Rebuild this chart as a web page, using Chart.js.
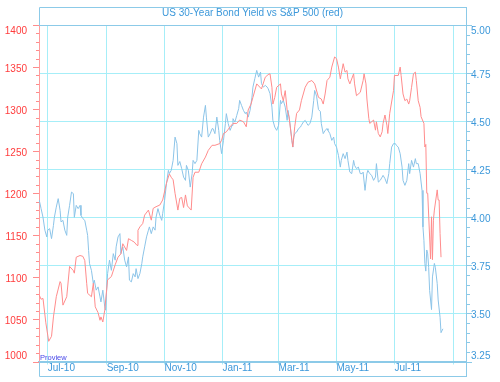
<!DOCTYPE html>
<html><head><meta charset="utf-8">
<script src="https://cdn.jsdelivr.net/npm/chart.js@4"></script>
<style>html,body{margin:0;padding:0;background:#fff}canvas{display:block}</style>
</head><body>
<canvas id="c" width="500" height="382"></canvas>
<script>
const titleText = 'US 30-Year Bond Yield vs S&P 500 (red)';
const sourceText = 'Proview';
// all "day" values are calendar days counted from 2010-07-01
const monthTickDays = [0, 62, 123, 184, 243, 304, 365, 427];
const monthTickLabels = ['Jul-10', 'Sep-10', 'Nov-10', 'Jan-11', 'Mar-11', 'May-11', 'Jul-11', ''];
const spAxisRange = [1000, 1400];
const yieldAxisRange = [3.25, 5.00];

const spDay = [-9,-7,-5,-2,1,4,6,9,13,14,16,20,23,27,28,30,34,37,39,41,42,46,48,50,53,55,56,58,60,62,63,67,71,74,77,79,83,85,88,91,94,95,97,100,102,106,109,111,114,118,121,125,128,130,132,134,137,139,141,143,145,147,151,153,155,159,162,166,169,173,176,181,183,185,188,192,195,199,202,206,209,211,214,216,220,225,229,232,234,236,237,239,241,245,246,248,250,252,254,257,258,260,262,265,267,271,274,278,281,285,288,290,292,294,297,299,302,304,306,308,311,313,315,316,318,322,323,325,329,332,333,335,336,338,339,343,345,346,348,350,352,353,355,357,358,360,364,365,369,371,372,374,376,378,380,381,383,385,387,388,390,392,393,396,397,398,399,400,403,404,405,406,407,410,411,412,413,414];
const spValue = [1079,1074,1075,1046,1024,1030,1053,1077,1095,1093,1067,1077,1113,1108,1105,1124,1126,1125,1120,1093,1081,1077,1093,1065,1058,1049,1053,1047,1061,1085,1097,1101,1115,1124,1128,1140,1132,1146,1144,1142,1138,1156,1160,1164,1174,1180,1168,1182,1184,1186,1192,1212,1223,1219,1216,1200,1180,1194,1195,1183,1198,1185,1180,1219,1225,1225,1235,1243,1251,1257,1257,1259,1263,1271,1273,1279,1283,1283,1287,1285,1279,1299,1306,1314,1330,1324,1338,1341,1342,1326,1306,1314,1326,1330,1318,1310,1322,1299,1291,1263,1255,1279,1295,1299,1310,1326,1332,1334,1330,1314,1312,1306,1318,1334,1338,1350,1362,1360,1350,1336,1354,1344,1346,1336,1330,1342,1330,1316,1320,1334,1342,1330,1312,1289,1283,1287,1275,1285,1271,1267,1273,1283,1293,1281,1271,1295,1322,1340,1340,1350,1340,1318,1310,1312,1306,1310,1326,1342,1344,1334,1310,1302,1291,1283,1255,1258,1200,1200,1122,1172,1121,1168,1180,1204,1192,1192,1152,1124];

const bondDay = [-9,-7,-5,-3,-1,0,2,4,6,7,9,11,13,14,16,18,20,21,23,25,27,28,30,32,34,35,37,39,41,42,43,44,46,48,49,51,53,55,56,58,60,61,62,63,65,67,69,71,72,74,76,77,79,81,83,85,86,88,90,92,93,95,97,99,100,102,104,106,107,109,111,113,114,116,118,120,121,123,125,127,128,130,132,134,136,137,139,141,143,145,146,148,150,152,153,155,157,159,160,162,164,166,167,169,171,173,174,176,178,180,181,183,185,187,188,190,192,194,195,197,199,201,202,204,206,208,209,211,213,215,216,218,220,222,224,225,227,229,231,232,234,236,237,239,241,243,245,246,248,250,252,253,255,257,258,259,260,262,264,266,267,269,271,273,274,276,278,280,281,283,285,287,288,290,292,294,295,297,299,301,302,304,306,308,309,311,313,315,316,318,320,322,323,325,327,329,331,332,334,336,337,339,341,343,345,346,348,350,352,353,355,357,359,360,362,364,366,367,369,371,373,374,376,378,380,381,383,385,387,388,390,392,394,395,396,397,398,399,400,401,402,404,405,407,408,410,411,413,414,416];
const bondYield = [4.09,4.045,4.00,3.933,3.898,3.933,3.941,3.889,3.958,4.00,4.053,4.097,4.036,3.976,3.984,3.933,3.906,4.00,4.062,4.131,4.123,4.00,4.062,4.045,4.062,4.01,3.993,3.984,3.933,3.906,3.828,3.759,3.724,3.655,3.673,3.621,3.638,3.586,3.56,3.621,3.534,3.517,3.621,3.707,3.777,3.724,3.811,3.777,3.846,3.898,3.915,3.811,3.846,3.777,3.742,3.794,3.673,3.664,3.707,3.69,3.733,3.681,3.707,3.759,3.794,3.846,3.898,3.933,3.95,3.915,3.95,3.933,4.00,4.045,4.01,3.984,4.019,4.088,4.175,4.244,4.227,4.244,4.296,4.417,4.383,4.27,4.29,4.253,4.209,4.192,4.27,4.244,4.157,4.227,4.296,4.279,4.296,4.452,4.435,4.417,4.521,4.582,4.521,4.417,4.435,4.461,4.461,4.435,4.521,4.452,4.40,4.331,4.40,4.487,4.539,4.487,4.452,4.478,4.513,4.495,4.53,4.565,4.608,4.582,4.556,4.539,4.547,4.521,4.556,4.625,4.677,4.721,4.764,4.729,4.755,4.695,4.677,4.686,4.677,4.669,4.643,4.573,4.504,4.469,4.452,4.478,4.608,4.591,4.608,4.573,4.504,4.556,4.487,4.40,4.365,4.417,4.435,4.443,4.461,4.469,4.478,4.495,4.504,4.487,4.478,4.487,4.521,4.608,4.66,4.63,4.56,4.55,4.487,4.435,4.452,4.461,4.452,4.435,4.40,4.417,4.383,4.365,4.322,4.261,4.296,4.331,4.305,4.339,4.296,4.235,4.227,4.296,4.27,4.253,4.261,4.227,4.227,4.235,4.14,4.227,4.244,4.227,4.218,4.192,4.209,4.279,4.183,4.192,4.209,4.218,4.201,4.175,4.227,4.279,4.365,4.383,4.383,4.374,4.365,4.331,4.261,4.192,4.166,4.192,4.279,4.227,4.296,4.261,4.305,4.279,4.279,4.227,4.14,3.95,3.88,3.76,3.72,3.83,3.81,3.74,3.62,3.52,3.69,3.76,3.74,3.655,3.57,3.48,3.40,3.42];

const FONT = '"Liberation Sans", Arial, Helvetica, sans-serif';
const frameColor = '#8ccae8';
const gridColor = '#a6eef8';
const blueText = '#3c98da';
const redText = '#ff3c3c';

const framePlugin = {
  id: 'framePlugin',
  afterDraw(chart) {
    const {ctx, chartArea: a, scales} = chart;
    const yS = scales.y, yR = scales.y1;
    const L = a.left, R = a.right, T = a.top, B = a.bottom;
    ctx.save();
    ctx.lineWidth = 1;
    ctx.strokeStyle = frameColor;
    ctx.beginPath();
    ctx.moveTo(L + 0.5, 7.5); ctx.lineTo(R + 0.5, 7.5);
    ctx.moveTo(L + 0.5, 7.5); ctx.lineTo(L + 0.5, T);
    ctx.moveTo(L - 6, T + 0.5); ctx.lineTo(R + 0.5, T + 0.5);
    ctx.moveTo(R + 0.5, 7); ctx.lineTo(R + 0.5, 377);
    ctx.moveTo(L + 0.5, B); ctx.lineTo(L + 0.5, 376.5);
    ctx.lineTo(R + 0.5, 376.5);
    ctx.stroke();
    ctx.fillStyle = blueText;
    ctx.font = '10px ' + FONT;
    ctx.textAlign = 'center';
    ctx.textBaseline = 'middle';
    ctx.fillText(titleText, (L + R) / 2, 13);
    ctx.strokeStyle = '#ff8c8c';
    ctx.beginPath();
    for (let v = spAxisRange[0]; v <= spAxisRange[1]; v += 10) {
      const y = Math.round(yS.getPixelForValue(v)) + 0.5;
      const len = v % 50 === 0 ? 6 : 3;
      ctx.moveTo(L - len, y); ctx.lineTo(L, y);
    }
    ctx.stroke();
    ctx.strokeStyle = frameColor;
    ctx.beginPath();
    for (let i = 0; i <= 35; i++) {
      const v = yieldAxisRange[0] + 0.05 * i;
      const y = Math.round(yR.getPixelForValue(v)) + 0.5;
      const len = i % 5 === 0 ? 5 : 3;
      ctx.moveTo(R + 1, y); ctx.lineTo(R + 1 + len, y);
    }
    ctx.stroke();
    ctx.font = '10px ' + FONT;
    ctx.textBaseline = 'middle';
    const place = (p) => Math.min(Math.max(p + 2, T + 6), B - 5);
    ctx.fillStyle = redText;
    ctx.textAlign = 'right';
    yS.ticks.forEach(t => ctx.fillText(t.label, 27, place(yS.getPixelForValue(t.value))));
    ctx.fillStyle = blueText;
    ctx.textAlign = 'left';
    yR.ticks.forEach(t => ctx.fillText(t.label, R + 5, place(yR.getPixelForValue(t.value))));
    ctx.fillStyle = '#4848e8';
    ctx.font = '7.5px ' + FONT;
    ctx.textBaseline = 'alphabetic';
    ctx.fillText(sourceText, L + 1, 359.5);
    ctx.restore();
  }
};

new Chart(document.getElementById('c'), {
  type: 'line',
  data: {
    datasets: [
      {
        label: 'S&P 500',
        data: spDay.map((d, i) => ({x: d, y: spValue[i]})),
        yAxisID: 'y',
        borderColor: '#ff8c8c',
        borderWidth: 1,
        pointRadius: 0,
        tension: 0
      },
      {
        label: 'US 30-Year Bond Yield',
        data: bondDay.map((d, i) => ({x: d, y: bondYield[i]})),
        yAxisID: 'y1',
        borderColor: '#8cc4e8',
        borderWidth: 1,
        pointRadius: 0,
        tension: 0
      }
    ]
  },
  options: {
    responsive: false,
    animation: false,
    devicePixelRatio: 1,
    layout: {padding: {top: 25, left: 0, right: 0, bottom: 0}},
    plugins: {legend: {display: false}, tooltip: {enabled: false}, title: {display: false}},
    scales: {
      x: {
        type: 'linear',
        min: -9.2,
        max: 440.3,
        afterBuildTicks: s => { s.ticks = monthTickDays.map(v => ({value: v})); },
        afterFit: s => { s.height = 20.5; },
        ticks: {
          callback: (v, i) => monthTickLabels[i],
          align: 'start',
          autoSkip: false,
          maxRotation: 0,
          minRotation: 0,
          padding: -2,
          color: blueText,
          font: {family: FONT, size: 10}
        },
        grid: {color: gridColor, lineWidth: 1, drawTicks: true, tickLength: 3, tickColor: gridColor},
        border: {color: frameColor, width: 2}
      },
      y: {
        type: 'linear',
        position: 'left',
        min: spAxisRange[0],
        max: spAxisRange[1],
        afterFit: s => { s.width = 39; },
        ticks: {stepSize: 50, display: false, callback: v => String(v)},
        grid: {display: false},
        border: {color: '#ff9c9c', width: 1}
      },
      y1: {
        type: 'linear',
        position: 'right',
        min: yieldAxisRange[0],
        max: yieldAxisRange[1],
        afterFit: s => { s.width = 34; },
        ticks: {stepSize: 0.25, display: false, callback: v => Number(v).toFixed(2)},
        grid: {color: gridColor, lineWidth: 1, drawTicks: false},
        border: {color: frameColor, width: 1}
      }
    }
  },
  plugins: [framePlugin]
});
</script>
</body></html>
